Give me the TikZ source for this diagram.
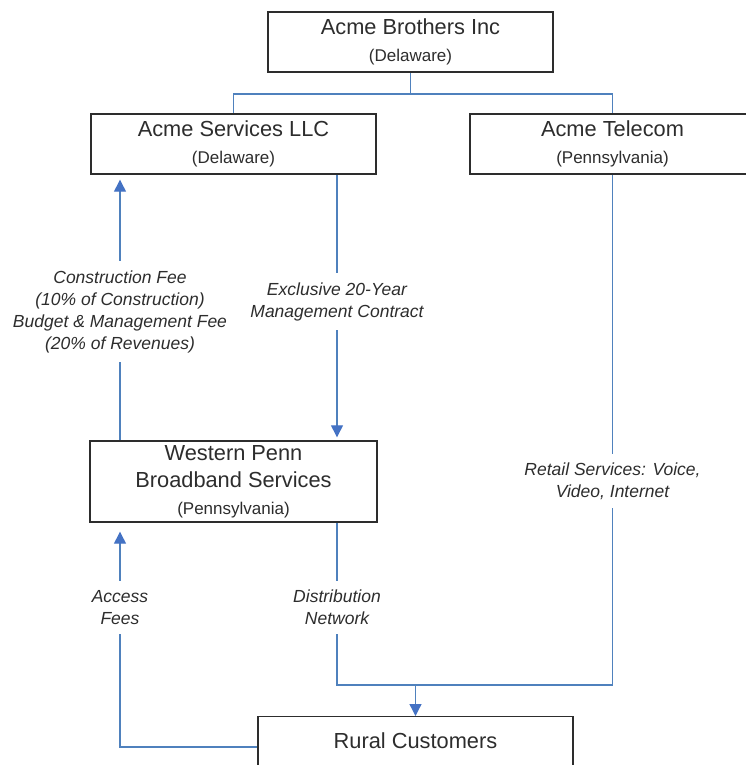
\documentclass[tikz,border=0pt]{standalone}
\usepackage{fontspec}
\setmainfont{Liberation Sans}
\usetikzlibrary{arrows.meta,backgrounds}
\definecolor{inkgray}{RGB}{45,45,45}
\definecolor{linkblue}{RGB}{79,129,189}
\definecolor{tipblue}{RGB}{68,114,196}
\newcommand\juris[1]{{\fontsize{17}{27}\selectfont #1}}

\begin{document}
\begin{tikzpicture}[x=1pt,y=-1pt,
  entity/.style={draw=inkgray, line width=1.4pt, fill=white, text=inkgray,
    align=center, minimum width=285pt, minimum height=60pt, inner sep=0pt,
    font=\fontsize{21.8}{27}\selectfont},
  flow/.style={draw=linkblue, line width=1.3pt},
  flowarrow/.style={flow, -{Triangle[length=12pt,width=12pt,fill=tipblue,color=tipblue]}},
  flowlabel/.style={fill=white, text=inkgray, align=center, inner xsep=3pt,
    inner ysep=9pt, font=\fontsize{17.5}{22}\selectfont\itshape}]

\useasboundingbox (0,0) rectangle (746,765);

% companies
\node[entity] (bro) at (410.5,42) {Acme Brothers Inc\\\juris{(Delaware)}};
\node[entity] (svc) at (233.5,144) {Acme Services LLC\\\juris{(Delaware)}};
\node[entity] (tel) at (612.5,144) {Acme Telecom\\\juris{(Pennsylvania)}};
\node[entity, minimum width=287pt, minimum height=81pt] (wp) at (233.5,481.5)
  {Western Penn\\Broadband Services\\\juris{(Pennsylvania)}};
\node[entity, anchor=north, minimum width=315pt, minimum height=0pt,
  text height=32pt, text depth=40pt] (rur) at (415.5,716) {Rural Customers};

% flow labels
\node[flowlabel] (fee) at (120,311.5) {Construction Fee\\(10\% of Construction)\\Budget \& Management Fee\\(20\% of Revenues)};
\node[flowlabel] (mgmt) at (337,301.5) {Exclusive 20-Year\\Management Contract};
\node[flowlabel] (retail) at (612.5,481) {Retail Services: Voice,\\Video, Internet};
\node[flowlabel] (acc) at (120,607.5) {Access\\Fees};
\node[flowlabel] (dist) at (337,607.5) {Distribution\\Network};

\coordinate (split) at (410.5,94);
\coordinate (merge) at (415.5,685);

\begin{pgfonlayer}{background}
  % ownership tree
  \draw[flow] (bro.south) -- (split);
  \draw[flow] (svc.north) |- (split) -| (tel.north);
  % fees and contract
  \draw[flowarrow, shorten >=5pt] (wp.north -| fee) -- (svc.south -| fee);
  \draw[flowarrow, shorten >=3pt] (svc.south -| mgmt) -- (wp.north -| mgmt);
  % services to customers
  \draw[flow] (wp.south -| dist) |- (merge);
  \draw[flow] (tel.south) |- (merge);
  \draw[flowarrow] (merge) -- (rur.north);
  % access fees back to the network owner
  \draw[flowarrow, shorten >=9pt] ([yshift=-31pt]rur.north west) -| (wp.south -| acc);
\end{pgfonlayer}
\end{tikzpicture}
\end{document}
